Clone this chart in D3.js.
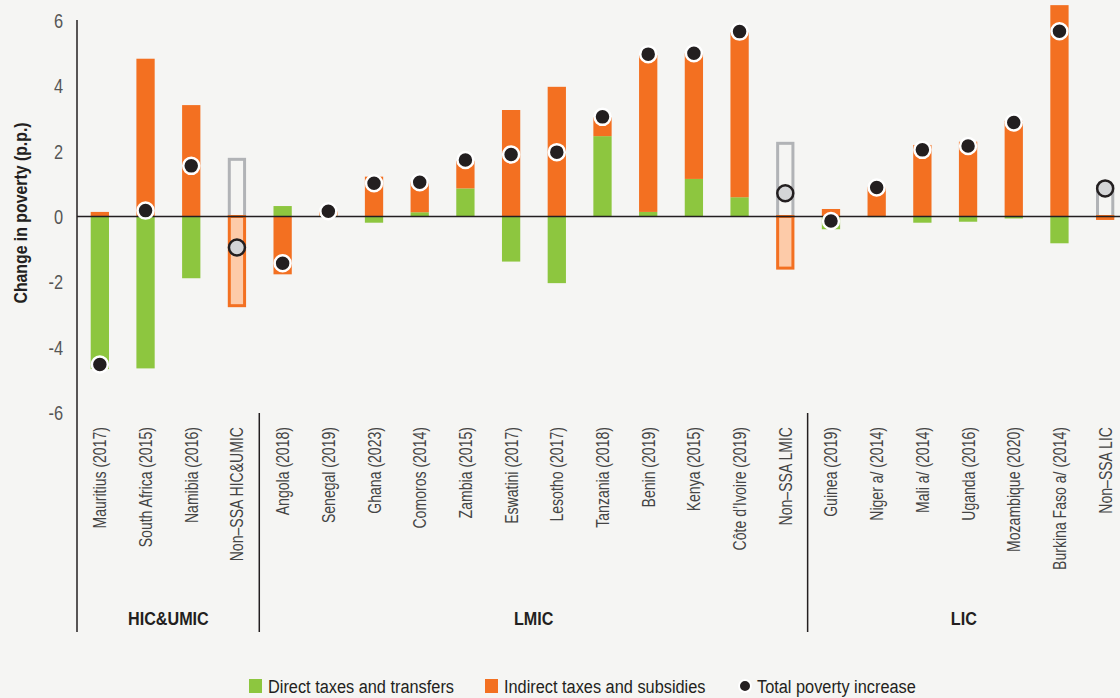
<!DOCTYPE html>
<html>
<head>
<meta charset="utf-8">
<script src="https://cdn.jsdelivr.net/npm/d3@7"></script>
<style>
  html, body { margin: 0; padding: 0; background: #f5f5f3; }
  svg { display: block; font-family: "Liberation Sans", Arial, sans-serif; }
</style>
</head>
<body>
<div id="chart"></div>
<script>
// data
var categories = ["Mauritius (2017)", "South Africa (2015)", "Namibia (2016)", "Non\u2013SSA HIC&UMIC",
  "Angola (2018)", "Senegal (2019)", "Ghana (2023)", "Comoros (2014)", "Zambia (2015)", "Eswatini (2017)",
  "Lesotho (2017)", "Tanzania (2018)", "Benin (2019)", "Kenya (2015)", "C\u00f4te d\u2019Ivoire (2019)", "Non\u2013SSA LMIC",
  "Guinea (2019)", "Niger a/ (2014)", "Mali a/ (2014)", "Uganda (2016)", "Mozambique (2020)", "Burkina Faso a/ (2014)", "Non\u2013SSA LIC"];
var groupNames = ["HIC&UMIC", "LMIC", "LIC"];
var groupSizes = [4, 12, 7];
var direct = [-4.67, -4.65, -1.89, 1.75, 0.32, 0.03, -0.19, 0.13, 0.86, -1.38, -2.04, 2.46, 0.14, 1.15, 0.59, 2.24,
  -0.39, -0.02, -0.19, -0.16, -0.06, -0.82, 0.92];
var indirect = [0.14, 4.83, 3.41, -2.73, -1.77, 0.13, 1.22, 0.94, 0.85, 3.26, 3.97, 0.58, 4.80, 3.85, 5.05, -1.58,
  0.23, 0.91, 2.19, 2.29, 2.93, 6.47, -0.06];
var total = [-4.53, 0.18, 1.55, -0.95, -1.43, 0.16, 1.02, 1.05, 1.73, 1.90, 1.97, 3.05, 4.97, 5.00, 5.66, 0.71,
  -0.14, 0.89, 2.04, 2.16, 2.88, 5.67, 0.86];
var yTicks = [-6, -4, -2, 0, 2, 4, 6];

var width = 1120, height = 698;
var green = "#8dc63f", orange = "#f37021", dark = "#231f20";

var svg = d3.select("#chart").append("svg").attr("width", width).attr("height", height);
svg.append("rect").attr("width", width).attr("height", height).attr("fill", "#f5f5f3");

// condensed-looking text: squeeze along the writing direction
function label(parent, tx, ty, rot, sx, txt, size, anchor, weight, fill) {
  var t = "translate(" + tx + "," + ty + ")" + (rot ? " rotate(" + rot + ")" : "") + " scale(" + sx + ",1)";
  return parent.append("text").attr("transform", t).attr("text-anchor", anchor || "start")
    .attr("font-size", size).attr("font-weight", weight || "normal").attr("fill", fill || dark).text(txt);
}

var rows = categories.map(function(c, i) {
  return { cat: c, direct: direct[i], indirect: indirect[i], total: total[i], agg: c.indexOf("Non") === 0 };
});

var x = d3.scaleBand().domain(categories).range([77, 1128]).paddingInner(0.6).paddingOuter(0.3);
var y = d3.scaleLinear().domain([-6, 6]).range([412.5, 20.5]);

// y axis
var yAxis = svg.append("g").attr("transform", "translate(77,0)")
  .call(d3.axisLeft(y).tickValues(yTicks).tickSize(0).tickPadding(14));
yAxis.select(".domain").remove();
yAxis.selectAll(".tick text").remove();
yAxis.selectAll(".tick").each(function(d) {
  label(d3.select(this), -14, 7, 0, 0.82, d < 0 ? "-" + Math.abs(d) : String(d), 20, "end", "normal", "#555");
});
svg.append("line").attr("x1", 77).attr("x2", 77).attr("y1", 20).attr("y2", 632).attr("stroke", dark).attr("stroke-width", 1.5);

label(svg, 27, 213, -90, 0.88, "Change in poverty (p.p.)", 18, "middle", "bold");

// stacked bars (diverging)
var stack = d3.stack().keys(["direct", "indirect"]).offset(d3.stackOffsetDiverging);
var series = stack(rows);

series.forEach(function(s) {
  var key = s.key;
  svg.append("g").selectAll("rect").data(s).enter().append("rect")
    .attr("x", function(d) { return x(d.data.cat) + (d.data.agg ? 1.5 : 0); })
    .attr("width", function(d) { return x.bandwidth() - (d.data.agg ? 3 : 0); })
    .attr("y", function(d) { return y(Math.max(d[0], d[1])); })
    .attr("height", function(d) { return Math.abs(y(d[0]) - y(d[1])); })
    .attr("fill", function(d) {
      if (d.data.agg) return key === "direct" ? "none" : "#fdcba9";
      return key === "direct" ? green : orange;
    })
    .attr("stroke", function(d) {
      if (d.data.agg) return key === "direct" ? "#b1b3b6" : orange;
      return "none";
    })
    .attr("stroke-width", 3);
});

// zero line
svg.append("line").attr("x1", 77).attr("x2", width).attr("y1", y(0)).attr("y2", y(0)).attr("stroke", dark).attr("stroke-width", 1.5);

// total dots
svg.append("g").selectAll("circle").data(rows).enter().append("circle")
  .attr("cx", function(d) { return x(d.cat) + x.bandwidth() / 2; })
  .attr("cy", function(d) { return y(d.total); })
  .attr("r", 8)
  .attr("fill", function(d) { return d.agg ? "#d4d5d7" : dark; })
  .attr("stroke", function(d) { return d.agg ? dark : "#fff"; })
  .attr("stroke-width", 2.5);

// category labels
var catG = svg.append("g");
categories.forEach(function(c) {
  label(catG, x(c) + x.bandwidth() / 2 + 6.5, 427, -90, 0.74, c, 19, "end", "normal", "#444");
});

// group separators and labels
var start = 0;
groupNames.forEach(function(g, gi) {
  var first = categories[start], last = categories[start + groupSizes[gi] - 1];
  var x0 = x(first) - x.step() * x.paddingInner() / 2 - 0.5;
  var x1 = x(last) + x.bandwidth() + x.step() * x.paddingInner() / 2;
  if (gi > 0) svg.append("line").attr("x1", x0).attr("x2", x0).attr("y1", 413).attr("y2", 632).attr("stroke", dark).attr("stroke-width", 1.5);
  label(svg, (Math.max(x0, 77) + Math.min(x1, width)) / 2, 625, 0, 0.85, g, 19, "middle", "bold");
  start += groupSizes[gi];
});

// legend
var legend = svg.append("g").attr("transform", "translate(0,686)");
legend.append("rect").attr("x", 249).attr("y", -7).attr("width", 13).attr("height", 14).attr("fill", green);
label(legend, 268, 7, 0, 0.86, "Direct taxes and transfers", 19);
legend.append("rect").attr("x", 485).attr("y", -7).attr("width", 13).attr("height", 14).attr("fill", orange);
label(legend, 504, 7, 0, 0.86, "Indirect taxes and subsidies", 19);
legend.append("circle").attr("cx", 745).attr("cy", 0).attr("r", 6).attr("fill", dark).attr("stroke", "#fff").attr("stroke-width", 2);
label(legend, 757, 7, 0, 0.86, "Total poverty increase", 19);
</script>
</body>
</html>
